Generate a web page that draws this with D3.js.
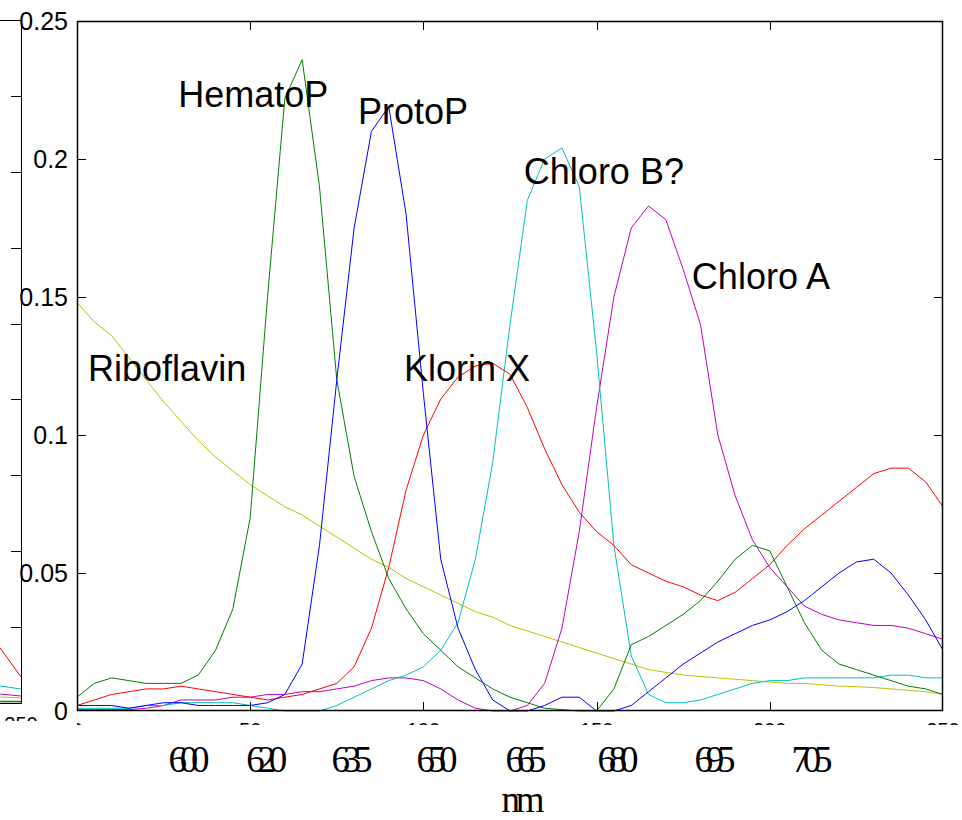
<!DOCTYPE html>
<html><head><meta charset="utf-8">
<script src="https://cdn.jsdelivr.net/npm/d3@7/dist/d3.min.js"></script>
<style>body{margin:0;background:#fff}svg{display:block}</style>
</head><body>
<svg id="c" width="962" height="820"></svg>
<script>
// ---------- data ----------
const sampleIdx = [0,5,10,15,20,25,30,35,40,45,50,55,60,65,70,75,80,85,90,95,100,105,110,115,120,125,130,135,140,145,150,155,160,165,170,175,180,185,190,195,200,205,210,215,220,225,230,235,240,245,250];
const hematoP = [0.005,0.010,0.012,0.011,0.010,0.010,0.010,0.013,0.022,0.037,0.070,0.150,0.222,0.236,0.190,0.120,0.085,0.065,0.048,0.037,0.028,0.022,0.016,0.012,0.008,0.005,0.003,0.001,0.0005,0,0,0.008,0.024,0.027,0.031,0.035,0.040,0.047,0.055,0.060,0.058,0.045,0.032,0.022,0.017,0.015,0.013,0.011,0.009,0.008,0.006];
const protoP = [0.002,0.002,0.002,0.001,0.002,0.003,0.003,0.002,0.002,0.002,0.002,0.003,0.006,0.017,0.060,0.120,0.175,0.210,0.219,0.180,0.115,0.055,0.030,0.015,0.004,0,0,0.002,0.005,0.005,0,0,0.002,0.007,0.012,0.017,0.021,0.025,0.028,0.031,0.033,0.036,0.040,0.045,0.050,0.054,0.055,0.050,0.042,0.033,0.022];
const klorinX = [0.002,0.004,0.006,0.007,0.008,0.008,0.009,0.008,0.007,0.006,0.005,0.004,0.005,0.006,0.008,0.010,0.016,0.030,0.052,0.080,0.100,0.113,0.121,0.125,0.126,0.122,0.110,0.095,0.082,0.072,0.065,0.060,0.053,0.050,0.047,0.045,0.042,0.040,0.043,0.048,0.053,0.060,0.066,0.071,0.076,0.081,0.086,0.088,0.088,0.083,0.074];
const chloroB = [0.001,0.001,0.001,0.001,0.002,0.002,0.003,0.003,0.003,0.003,0.002,0.001,0,0,0,0.002,0.005,0.008,0.011,0.013,0.016,0.022,0.032,0.055,0.090,0.140,0.185,0.200,0.204,0.190,0.130,0.060,0.020,0.006,0.003,0.003,0.004,0.006,0.008,0.010,0.011,0.011,0.012,0.012,0.012,0.012,0.012,0.013,0.013,0.012,0.012];
const chloroA = [0.0005,0.0005,0.0005,0.0005,0.001,0.002,0.004,0.004,0.004,0.005,0.005,0.006,0.006,0.007,0.007,0.008,0.009,0.011,0.012,0.012,0.011,0.008,0.004,0.001,0,0,0.002,0.010,0.030,0.065,0.110,0.150,0.175,0.183,0.178,0.160,0.140,0.100,0.078,0.062,0.052,0.045,0.038,0.035,0.033,0.032,0.031,0.031,0.030,0.028,0.026];
const riboflavin = [0.148,0.141,0.136,0.128,0.120,0.112,0.105,0.098,0.092,0.087,0.082,0.078,0.074,0.071,0.067,0.063,0.059,0.055,0.052,0.048,0.045,0.042,0.039,0.036,0.034,0.031,0.029,0.027,0.025,0.023,0.021,0.019,0.017,0.015,0.014,0.013,0.0125,0.012,0.0115,0.011,0.0105,0.010,0.010,0.0095,0.009,0.0088,0.0085,0.008,0.0075,0.007,0.006];

const frontSeries = [
  {name:"Riboflavin", values: riboflavin, color:"rgb(191,191,0)"},
  {name:"Chloro A",   values: chloroA,   color:"rgb(191,0,191)"},
  {name:"Chloro B?",  values: chloroB,   color:"rgb(0,191,191)"},
  {name:"Klorin X",   values: klorinX,   color:"rgb(255,0,0)"},
  {name:"HematoP",    values: hematoP,   color:"rgb(0,128,0)"},
  {name:"ProtoP",     values: protoP,    color:"rgb(0,0,255)"}
];

// back (partially hidden) axes: only its right end is visible
const backIdx = [244, 250];
const backRed = [0.0362, 0.0171];
const backCyan = [0.0112, 0.0092];
const backMagenta = [0.0059, 0.0046];
const backYellow = [0.0040, 0.0033];
const backGreen = [0.0012, 0.0011];
const backDark = [0.0008, 0.0008];
const backSeries = [
  {values: backDark, color:"rgb(64,64,64)"},
  {values: backGreen, color:"rgb(0,128,0)"},
  {values: backYellow, color:"rgb(191,191,0)"},
  {values: backMagenta, color:"rgb(191,0,191)"},
  {values: backCyan, color:"rgb(0,191,191)"},
  {values: backRed, color:"rgb(255,0,0)"}
];
const backYTicks = [0,0.05,0.1,0.15,0.2,0.25,0.3,0.35,0.4,0.45];
const backXTicks = [250];

const yTicks = [0,0.05,0.1,0.15,0.2,0.25];
const yTickLabels = ["0","0.05","0.1","0.15","0.2","0.25"];
const xTicks = [0,50,100,150,200,250];

const nmLabels = ["600","620","635","650","665","680","695","705"];
const nmPos = [32.3,54.8,79.4,103.9,129.6,156.2,184.2,212.2];
const nmTitle = "nm";

const annotations = [
  {text:"HematoP",    x:29.2, y:0.219},
  {text:"ProtoP",     x:81.1, y:0.2127},
  {text:"Chloro B?",  x:129.0, y:0.191},
  {text:"Chloro A",   x:177.5, y:0.1529},
  {text:"Riboflavin", x:3.2,  y:0.1196},
  {text:"Klorin X",   x:94.4, y:0.1196}
];

// ---------- drawing ----------
const svg = d3.select("#c");
const sans = "'Liberation Sans', Arial, Helvetica, sans-serif";
const serif = "'Liberation Serif', 'Times New Roman', serif";

// back axes
const bL = 21 - 866, bR = 21, bT = 20, bB = 703;
const bx = d3.scaleLinear().domain([0,250]).range([bL,bR]);
const by = d3.scaleLinear().domain([0,0.45]).range([bB,bT]);
svg.append("clipPath").attr("id","bclip").append("rect")
  .attr("x",0).attr("y",bT).attr("width",bR).attr("height",bB-bT);
const bg = svg.append("g");
const bline = d3.line().x((d,i)=>bx(backIdx[i])).y(d=>by(d));
bg.append("g").attr("clip-path","url(#bclip)").selectAll("path").data(backSeries).join("path")
  .attr("d",d=>bline(d.values)).attr("fill","none").attr("stroke",d=>d.color).attr("stroke-width",1);
bg.append("path").attr("d",`M0,${bT+0.5}H${bR+0.5}V${bB+0.5}H0`).attr("fill","none").attr("stroke","#000").attr("stroke-width",1);
bg.selectAll("line.bt").data(backYTicks.slice(1,-1)).join("line")
  .attr("x1",bR).attr("x2",bR-10).attr("y1",d=>Math.round(by(d))+0.5).attr("y2",d=>Math.round(by(d))+0.5)
  .attr("stroke","#000");
bg.selectAll("text.bx").data(backXTicks).join("text")
  .attr("x",d=>bx(d)).attr("y",731).attr("text-anchor","middle")
  .attr("font-family",sans).attr("font-size",20).text(d=>d);

// front axes
const L = 77, R = 943, T = 21, B = 711;
const x = d3.scaleLinear().domain([0,250]).range([L,R]);
const y = d3.scaleLinear().domain([0,0.25]).range([B,T]);
const fg = svg.append("g");
fg.append("rect").attr("x",L).attr("y",T).attr("width",R-L).attr("height",B-T).attr("fill","#fff");
svg.append("clipPath").attr("id","fclip").append("rect")
  .attr("x",L).attr("y",T-2).attr("width",R-L).attr("height",B-T+3);
const line = d3.line().x((d,i)=>x(sampleIdx[i])).y(d=>y(d));
fg.append("g").attr("clip-path","url(#fclip)").selectAll("path").data(frontSeries).join("path")
  .attr("d",d=>line(d.values)).attr("fill","none").attr("stroke",d=>d.color).attr("stroke-width",1);
fg.append("rect").attr("x",L+0.5).attr("y",T+0.5).attr("width",R-L-1).attr("height",B-T-1)
  .attr("fill","none").attr("stroke","#000").attr("stroke-width",1.5);
// ticks (inside, all four sides)
const tk = 9;
fg.selectAll("line.yl").data(yTicks.slice(1,-1)).join("line")
  .attr("x1",L).attr("x2",L+tk).attr("y1",d=>Math.round(y(d))+0.5).attr("y2",d=>Math.round(y(d))+0.5).attr("stroke","#000");
fg.selectAll("line.yr").data(yTicks.slice(1,-1)).join("line")
  .attr("x1",R).attr("x2",R-tk).attr("y1",d=>Math.round(y(d))+0.5).attr("y2",d=>Math.round(y(d))+0.5).attr("stroke","#000");
fg.selectAll("line.xb").data(xTicks.slice(1,-1)).join("line")
  .attr("y1",B).attr("y2",B-tk).attr("x1",d=>Math.round(x(d))+0.5).attr("x2",d=>Math.round(x(d))+0.5).attr("stroke","#000");
fg.selectAll("line.xt").data(xTicks.slice(1,-1)).join("line")
  .attr("y1",T).attr("y2",T+tk).attr("x1",d=>Math.round(x(d))+0.5).attr("x2",d=>Math.round(x(d))+0.5).attr("stroke","#000");
// y tick labels
fg.selectAll("text.yl").data(yTicks).join("text")
  .attr("x",68).attr("y",d=>y(d)).attr("dy","0.36em").attr("text-anchor","end")
  .attr("font-family",sans).attr("font-size",25).text((d,i)=>yTickLabels[i]);
// x tick labels (mostly covered below)
fg.selectAll("text.xl").data(xTicks).join("text")
  .attr("x",d=>x(d)).attr("y",737).attr("text-anchor","middle")
  .attr("font-family",sans).attr("font-size",20).text(d=>d);

// white cover strip with custom wavelength labels
svg.append("rect").attr("x",0).attr("y",721).attr("width",L).attr("height",99).attr("fill","#fff");
svg.append("rect").attr("x",L).attr("y",725).attr("width",962-L).attr("height",95).attr("fill","#fff");
svg.selectAll("text.nm").data(nmLabels).join("text")
  .attr("x",(d,i)=>x(nmPos[i])).attr("y",772).attr("text-anchor","middle")
  .attr("font-family",serif).attr("font-size",37)
  .attr("textLength",41).attr("lengthAdjust","spacing").text(d=>d);
svg.append("text").attr("x",523).attr("y",812).attr("text-anchor","middle")
  .attr("font-family",serif).attr("font-size",37)
  .attr("textLength",43).attr("lengthAdjust","spacing").text(nmTitle);

// annotations
svg.selectAll("text.ann").data(annotations).join("text")
  .attr("x",d=>x(d.x)).attr("y",d=>y(d.y))
  .attr("font-family",sans).attr("font-size",36).attr("fill","#000").text(d=>d.text);
</script>
</body></html>
